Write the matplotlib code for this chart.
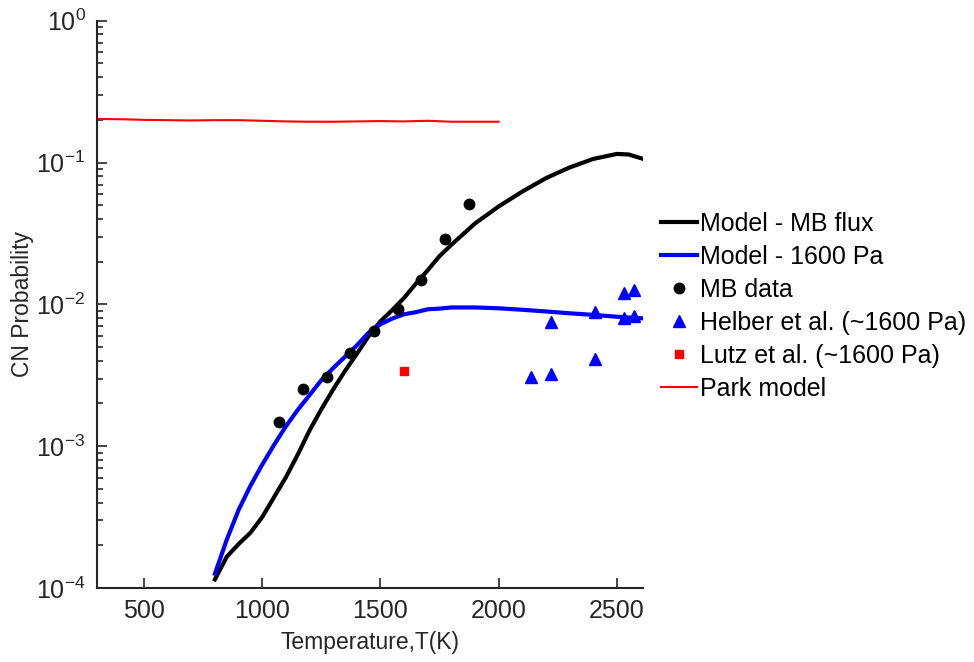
import matplotlib
matplotlib.use("Agg")
import matplotlib.pyplot as plt
from matplotlib.ticker import LogLocator, NullFormatter, FixedLocator

plt.rcParams['font.family'] = ['Liberation Sans', 'DejaVu Sans']
plt.rcParams['mathtext.fontset'] = 'custom'
plt.rcParams['mathtext.rm'] = 'Liberation Sans'
plt.rcParams['mathtext.default'] = 'regular'

# Model - MB flux
T_mb_model = [800, 850, 900, 950, 1000, 1050, 1100, 1150, 1200, 1250, 1300, 1350, 1400, 1450,
              1500, 1550, 1600, 1650, 1700, 1750, 1800, 1900, 2000, 2100, 2200, 2300, 2400,
              2500, 2550, 2612]
P_mb_model = [1.15e-4, 1.66e-4, 2.04e-4, 2.45e-4, 3.16e-4, 4.37e-4, 6.03e-4, 8.7e-4,
              1.29e-3, 1.82e-3, 2.51e-3, 3.39e-3, 4.47e-3, 5.96e-3, 7.59e-3, 9.12e-3,
              1.11e-2, 1.40e-2, 1.74e-2, 2.19e-2, 2.63e-2, 3.72e-2, 4.90e-2, 6.24e-2,
              7.76e-2, 9.23e-2, 1.06e-1, 1.15e-1, 1.14e-1, 1.06e-1]

# Model - 1600 Pa
T_1600_model = [800, 850, 900, 950, 1000, 1050, 1100, 1150, 1200, 1250, 1300, 1350, 1400,
                1450, 1500, 1550, 1600, 1650, 1700, 1750, 1800, 1900, 2000, 2100, 2200,
                2300, 2400, 2500, 2612]
P_1600_model = [1.26e-4, 2.19e-4, 3.55e-4, 5.25e-4, 7.41e-4, 1.02e-3, 1.38e-3, 1.80e-3,
                2.29e-3, 2.92e-3, 3.55e-3, 4.27e-3, 5.13e-3, 6.31e-3, 7.24e-3, 7.94e-3,
                8.51e-3, 8.81e-3, 9.23e-3, 9.33e-3, 9.51e-3, 9.51e-3, 9.38e-3, 9.16e-3,
                8.91e-3, 8.65e-3, 8.43e-3, 8.18e-3, 7.96e-3]

# MB data
T_mb_data = [1073, 1173, 1273, 1373, 1473, 1573, 1673, 1773, 1873]
P_mb_data = [1.47e-3, 2.51e-3, 3.08e-3, 4.55e-3, 6.47e-3, 9.2e-3, 1.48e-2, 2.87e-2, 5.09e-2]

# Helber et al.
T_helber = [2135, 2220, 2220, 2406, 2406, 2529, 2571, 2529, 2571]
P_helber = [3.05e-3, 3.25e-3, 7.5e-3, 4.1e-3, 8.85e-3, 1.21e-2, 1.27e-2, 8.04e-3, 8.3e-3]

# Lutz et al.
T_lutz = [1600]
P_lutz = [3.38e-3]

# Park model
T_park = [300, 400, 500, 600, 700, 800, 900, 1000, 1100, 1200, 1300, 1400, 1500,
          1600, 1700, 1800, 1900, 2000]
P_park = [0.203, 0.202, 0.200, 0.199, 0.198, 0.199, 0.199, 0.197, 0.195, 0.194,
          0.194, 0.195, 0.196, 0.195, 0.197, 0.194, 0.194, 0.194]

fig = plt.figure(figsize=(9.74, 6.62), dpi=100)
ax = fig.add_axes([0.0993, 0.1118, 0.5612, 0.8569])

ax.plot(T_mb_model, P_mb_model, color='black', lw=3, label='Model - MB flux',
        solid_joinstyle='round')
ax.plot(T_1600_model, P_1600_model, color='#0000ff', lw=3, label='Model - 1600 Pa',
        solid_joinstyle='round')
ax.plot(T_mb_data, P_mb_data, 'o', color='black', ms=7.5, label='MB data')
ax.plot(T_helber, P_helber, '^', color='#0000ff', ms=8.5, label='Helber et al. (~1600 Pa)')
ax.plot(T_lutz, P_lutz, 's', color='#ff0000', ms=5.5, label='Lutz et al. (~1600 Pa)')
ax.plot(T_park, P_park, color='#ff0000', lw=1.5, label='Park model')

ax.set_yscale('log')
ax.set_xlim(300, 2612)
ax.set_ylim(1e-4, 1)
ax.xaxis.set_major_locator(FixedLocator([500, 1000, 1500, 2000, 2500]))
ax.yaxis.set_major_locator(LogLocator(base=10, numticks=10))
ax.yaxis.set_minor_locator(LogLocator(base=10, subs=range(2, 10), numticks=20))
ax.yaxis.set_minor_formatter(NullFormatter())

axc = '#262626'
for s in ['top', 'right']:
    ax.spines[s].set_visible(False)
for s in ['left', 'bottom']:
    ax.spines[s].set_color(axc)
    ax.spines[s].set_linewidth(1.5)
ax.tick_params(which='both', direction='in', colors=axc, labelsize=18, width=1.2)
ax.tick_params(which='major', length=7)
ax.tick_params(which='minor', length=4)
ax.tick_params(axis='x', pad=8)
ax.tick_params(axis='y', pad=8)

ax.set_xlabel('Temperature,T(K)', fontsize=16.5, color=axc, labelpad=6)
ax.set_ylabel('CN Probability', fontsize=16.5, color=axc)
ax.yaxis.set_label_coords(-0.115, 0.5)

leg = ax.legend(loc='center left', bbox_to_anchor=(1.0, 0.497), frameon=False,
                fontsize=18, handlelength=1.45, handletextpad=0.12,
                labelspacing=0.36, borderaxespad=0.3)

fig.savefig('out.png', dpi=100)
